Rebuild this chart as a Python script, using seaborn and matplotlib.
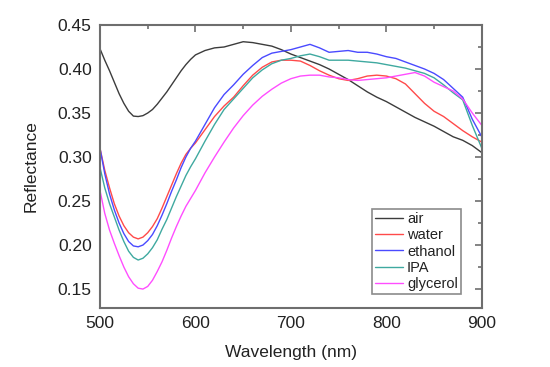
import numpy as np
import pandas as pd
import matplotlib
matplotlib.use("Agg")
import matplotlib.pyplot as plt
import seaborn as sns
from matplotlib.ticker import MultipleLocator

wavelength = [500, 505, 510, 515, 520, 525, 530, 535, 540, 545, 550, 555, 560,
              565, 570, 575, 580, 585, 590, 595, 600,
              610, 620, 630, 640, 650, 660, 670, 680, 690, 700, 710, 720, 730,
              740, 750, 760, 770, 780, 790, 800, 810, 820, 830, 840, 850, 860,
              870, 880, 890, 900]

air = [0.423, 0.410, 0.398, 0.385, 0.372, 0.361, 0.352, 0.3465, 0.346, 0.347,
       0.350, 0.354, 0.360, 0.367, 0.374, 0.382, 0.390, 0.398, 0.405, 0.411,
       0.416,
       0.421, 0.424, 0.425, 0.428, 0.431, 0.430, 0.428, 0.426, 0.422,
       0.417, 0.413, 0.409, 0.405, 0.400, 0.394, 0.388, 0.381, 0.374, 0.368,
       0.363, 0.357, 0.351, 0.345, 0.340, 0.335, 0.329, 0.323, 0.319, 0.313,
       0.305]
water = [0.310, 0.285, 0.265, 0.247, 0.233, 0.222, 0.214, 0.209, 0.207, 0.209,
         0.214, 0.221, 0.230, 0.242, 0.255, 0.268, 0.281, 0.293, 0.303, 0.310,
         0.316,
         0.331, 0.346, 0.358, 0.368, 0.381, 0.393, 0.402, 0.408, 0.410,
         0.410, 0.409, 0.404, 0.398, 0.393, 0.389, 0.387, 0.389, 0.392, 0.393,
         0.392, 0.389, 0.383, 0.372, 0.361, 0.352, 0.346, 0.338, 0.330, 0.323,
         0.317]
ethanol = [0.310, 0.281, 0.258, 0.240, 0.225, 0.213, 0.204, 0.199, 0.198, 0.200,
           0.205, 0.212, 0.222, 0.234, 0.247, 0.261, 0.274, 0.288, 0.300, 0.310,
           0.318,
           0.337, 0.356, 0.371, 0.382, 0.394, 0.404, 0.413, 0.418, 0.420,
           0.422, 0.425, 0.428, 0.424, 0.419, 0.420, 0.421, 0.419, 0.419, 0.417,
           0.414, 0.412, 0.408, 0.404, 0.400, 0.395, 0.388, 0.378, 0.368, 0.343,
           0.323]
ipa = [0.288, 0.265, 0.247, 0.232, 0.217, 0.204, 0.193, 0.186, 0.183, 0.185,
       0.190, 0.197, 0.206, 0.218, 0.229, 0.242, 0.255, 0.267, 0.279, 0.289,
       0.298,
       0.318, 0.337, 0.354, 0.366, 0.378, 0.390, 0.399, 0.406, 0.410,
       0.412, 0.415, 0.417, 0.414, 0.410, 0.410, 0.410, 0.409, 0.408, 0.407,
       0.405, 0.403, 0.401, 0.398, 0.395, 0.390, 0.382, 0.373, 0.365, 0.336,
       0.310]
glycerol = [0.262, 0.236, 0.217, 0.202, 0.188, 0.175, 0.164, 0.156, 0.151, 0.150,
            0.153, 0.160, 0.170, 0.181, 0.194, 0.208, 0.221, 0.233, 0.244, 0.253,
            0.262,
            0.282, 0.300, 0.317, 0.333, 0.347, 0.359, 0.369, 0.377, 0.384,
            0.389, 0.392, 0.393, 0.393, 0.391, 0.390, 0.388, 0.387, 0.388, 0.389,
            0.390, 0.392, 0.394, 0.396, 0.392, 0.385, 0.380, 0.375, 0.366, 0.350,
            0.336]

series_names = ["air", "water", "ethanol", "IPA", "glycerol"]
series_vals = [air, water, ethanol, ipa, glycerol]
colors = ["#3c3c3c", "#ff4a4a", "#4a4aff", "#3fa9a0", "#ff4dff"]

frames = []
for n, v in zip(series_names, series_vals):
    frames.append(pd.DataFrame({"Wavelength": wavelength, "Reflectance": v, "sample": n}))
df = pd.concat(frames, ignore_index=True)

sns.set_style("white")
plt.rcParams['font.family'] = ['Liberation Sans', 'DejaVu Sans']

fig = plt.figure(figsize=(5.5, 3.67), dpi=100)
ax = fig.add_axes([0.1818, 0.1608, 0.876 - 0.1818, 0.9319 - 0.1608])

sns.lineplot(data=df, x="Wavelength", y="Reflectance", hue="sample",
             hue_order=series_names, palette=colors, linewidth=1.0, ax=ax)

ax.set_xlim(500, 900)
ax.set_ylim(0.1285, 0.45)
ax.xaxis.set_major_locator(MultipleLocator(100))
ax.xaxis.set_minor_locator(MultipleLocator(50))
ax.yaxis.set_major_locator(MultipleLocator(0.05))
ax.yaxis.set_minor_locator(MultipleLocator(0.025))
ax.yaxis.set_major_formatter(matplotlib.ticker.FormatStrFormatter('%.2f'))

spine_col = "#6e6e6e"
for s in ax.spines.values():
    s.set_color(spine_col)
    s.set_linewidth(1.5)
    s.set_visible(True)
ax.tick_params(which='both', direction='in', top=True, right=True,
               color=spine_col, width=1.2)
ax.tick_params(which='major', length=5, labelsize=12.5, colors="#222222",
               labelcolor="#222222", pad=6)
ax.tick_params(which='minor', length=3)
ax.tick_params(axis='both', which='both', color=spine_col)

ax.set_xlabel("Wavelength (nm)", fontsize=12.5, color="#222222", labelpad=10)
ax.set_ylabel("Reflectance", fontsize=12.5, color="#222222", labelpad=14)

leg = ax.legend(loc="lower right", bbox_to_anchor=(0.945, 0.05), fontsize=10.5,
                frameon=True, fancybox=False, handlelength=1.9,
                handletextpad=0.3, labelspacing=0.15, borderpad=0.2,
                borderaxespad=0.0)
leg.get_frame().set_edgecolor(spine_col)
leg.get_frame().set_linewidth(1.2)
for t in leg.get_texts():
    t.set_color("#222222")

fig.savefig("out.png", dpi=100, facecolor="white")
